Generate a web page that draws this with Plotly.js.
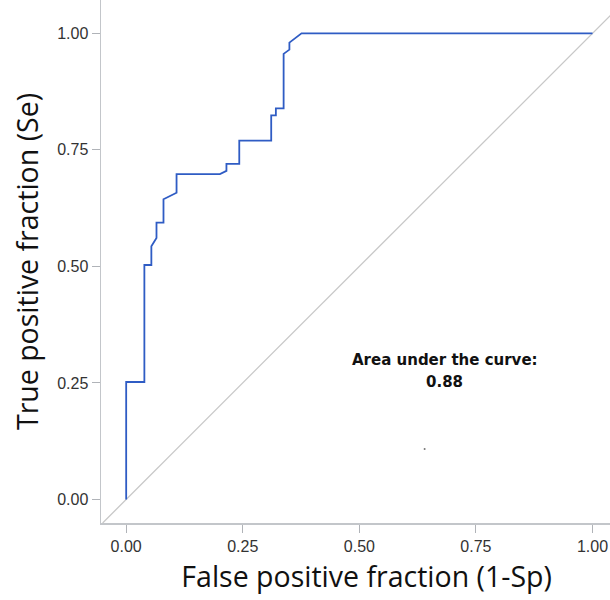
<!DOCTYPE html>
<html>
<head>
<meta charset="utf-8">
<script src="https://cdn.plot.ly/plotly-3.0.1.min.js"></script>
<style>html,body{margin:0;padding:0;background:#fff;}#chart{width:610px;height:600px;}</style>
</head>
<body>
<div id="chart"></div>
<script>
// ROC curve vertices (false positive fraction, true positive fraction)
const fpf = [0.000, 0.000, 0.039, 0.039, 0.054, 0.054, 0.065, 0.065, 0.080, 0.080, 0.108, 0.108, 0.201, 0.215, 0.215, 0.2425, 0.2425, 0.311, 0.311, 0.321, 0.321, 0.3376, 0.3376, 0.350, 0.350, 0.376, 1.000];
const tpf = [0.000, 0.252, 0.252, 0.503, 0.503, 0.543, 0.561, 0.594, 0.594, 0.644, 0.658, 0.698, 0.698, 0.705, 0.720, 0.720, 0.770, 0.770, 0.824, 0.824, 0.839, 0.839, 0.956, 0.965, 0.980, 1.000, 1.000];
const refX = [-0.0505, 1.04];
const refY = [-0.0505, 1.04];
const xTicks = [0, 0.25, 0.5, 0.75, 1];
const xTickText = ["0.00", "0.25", "0.50", "0.75", "1.00"];
const yTicks = [0, 0.25, 0.5, 0.75, 1];
const yTickText = ["0.00", "0.25", "0.50", "0.75", "1.00"];
const aucTitle = "Area under the curve:";
const aucValue = "0.88";
const specX = [0.64];
const specY = [0.108];

const traces = [
  {x: refX, y: refY, mode: "lines", line: {color: "#c8c8c8", width: 1.3}, hoverinfo: "skip"},
  {x: fpf, y: tpf, mode: "lines", line: {color: "#2f5cc4", width: 1.8}},
  {x: specX, y: specY, mode: "markers", marker: {color: "#777", size: 2}}
];

const axisCommon = {
  showgrid: false, zeroline: false, showline: true, linecolor: "#c3c6ca", linewidth: 1.5,
  ticks: "outside", ticklen: 8, tickcolor: "#b0b3b8", tickwidth: 1,
  tickfont: {family: "Arial, Liberation Sans, sans-serif", size: 16, color: "#333"},
  tickmode: "array", fixedrange: true
};

const titleFont = {family: "Open Sans, sans-serif", size: 28.5, color: "#111"};
const annFont = {family: "DejaVu Sans, sans-serif", size: 15, color: "#111"};

const layout = {
  width: 610, height: 600,
  margin: {l: 101, r: 0, t: 0, b: 77, pad: 0},
  paper_bgcolor: "#fff", plot_bgcolor: "#fff",
  showlegend: false,
  xaxis: Object.assign({}, axisCommon, {
    range: [-0.054, 1.0375], tickvals: xTicks, ticktext: xTickText,
    title: {text: "&nbsp;&nbsp;&nbsp;False positive fraction (1-Sp)", font: titleFont, standoff: 13}
  }),
  yaxis: Object.assign({}, axisCommon, {
    range: [-0.0505, 1.0715], tickvals: yTicks, ticktext: yTickText,
    title: {text: "True positive fraction (Se)", font: titleFont, standoff: 10}
  }),
  annotations: [
    {x: 0.6836, y: 0.299, xref: "x", yref: "y", text: "<b>" + aucTitle + "</b>", showarrow: false, font: annFont},
    {x: 0.6836, y: 0.252, xref: "x", yref: "y", text: "<b>" + aucValue + "</b>", showarrow: false, font: annFont}
  ]
};

Plotly.newPlot("chart", traces, layout, {displayModeBar: false, staticPlot: true});
</script>
</body>
</html>
